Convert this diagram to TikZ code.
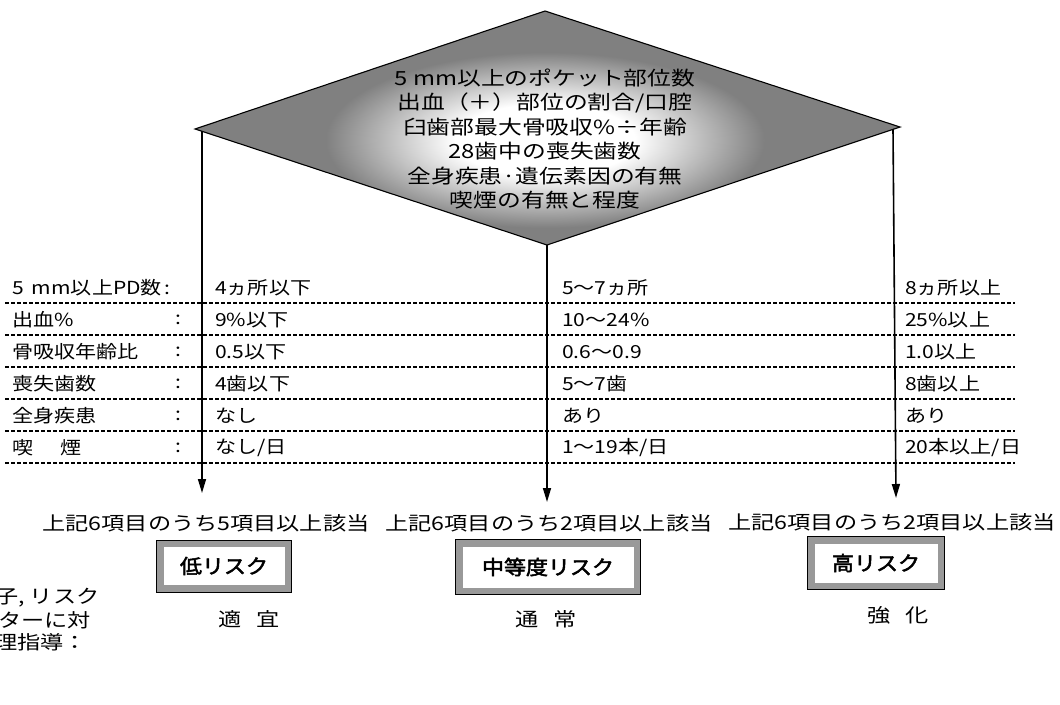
\documentclass[tikz,border=0pt]{standalone}
\usepackage{fontspec}
\usetikzlibrary{arrows.meta}
\newfontfamily\jpT[FakeStretch=1.17]{Noto Sans CJK JP}
\newfontfamily\jpD[FakeStretch=1.22]{Noto Sans CJK JP}
\newfontfamily\jpL[FakeStretch=1.22]{Noto Sans CJK JP}
\newfontfamily\jpB[FakeStretch=1.1,FakeBold=2.5]{Noto Sans CJK JP}
\pgfdeclareradialshading{glow}{\pgfpoint{0bp}{0bp}}{color(0bp)=(white); color(9bp)=(white); color(22bp)=(black!50); color(50bp)=(black!50)}
\begin{document}
\begin{tikzpicture}[x=1pt,y=-1pt,
  txt/.style={inner sep=0pt, font=\fontsize{18}{20}\jpT},
  lbl/.style={inner sep=0pt, font=\fontsize{19}{22}\jpL},
  sep/.style={dash pattern=on 3.5pt off 2.5pt, line width=1.1pt},
  arr/.style={line width=1.6pt, -{Triangle[length=14pt,width=8pt]}},
  riskbox/.style={draw=black, line width=0.9pt, fill=black!40, inner sep=0pt,
    font=\fontsize{20}{22}\jpB,
    path picture={\fill[white] ([shift={(7pt,7pt)}]path picture bounding box.south west) rectangle ([shift={(-7pt,-7pt)}]path picture bounding box.north east);}}
]
\clip (0,0) rectangle (1060,704);
\fill[white] (0,0) rectangle (1060,704);
% diamond
\coordinate (T) at (545,11);
\coordinate (L) at (195,129);
\coordinate (R) at (900,127);
\coordinate (B) at (547,245);
\fill[black!50] (T) -- (R) -- (B) -- (L) -- cycle;
\begin{scope}
  \clip (T) -- (R) -- (B) -- (L) -- cycle;
  \shade[shading=glow] (545,140) ellipse [x radius=250, y radius=100];
\end{scope}
\draw[line width=1.1pt] (T) -- (R) -- (B) -- (L) -- cycle;
\node[align=center, inner sep=0pt, font=\fontsize{19.5}{24.5}\jpD] (dtext) at (545,139)
  {5 mm以上のポケット部位数\\出血（＋）部位の割合/口腔\\臼歯部最大骨吸収\%÷年齢\\28歯中の喪失歯数\\全身疾患·遺伝素因の有無\\喫煙の有無と程度};
% table dashed lines
\foreach \k in {0,...,5} {
  \coordinate (dl\k) at (5,{303+32*\k});
  \coordinate (dr\k) at (1015,{303+32*\k});
  \draw[sep] (dl\k) -- (dr\k);
}
% row labels
\node[txt, anchor=west] (r1) at (12,288) {5\hspace{0.45em}mm以上PD数\,:};
\node[txt, anchor=west] (r2) at (12,320) {出血\%};
\node[txt, anchor=west] (r3) at (12,352) {骨吸収年齢比};
\node[txt, anchor=west] (r4) at (12,384) {喪失歯数};
\node[txt, anchor=west] (r5) at (12,416) {全身疾患};
\node[txt, anchor=west] (r6) at (12,448) {喫\hspace{1.5em}煙};
\foreach \k in {2,...,6} {
  \node[txt] (c\k) at (178,{288+32*(\k-1)}) {:};
}
% values
\node[txt, anchor=west] (a1) at (215,288) {4ヵ所以下};
\node[txt, anchor=west] (a2) at (215,320) {9\%以下};
\node[txt, anchor=west] (a3) at (215,352) {0.5以下};
\node[txt, anchor=west] (a4) at (215,384) {4歯以下};
\node[txt, anchor=west] (a5) at (215,416) {なし};
\node[txt, anchor=west] (a6) at (215,448) {なし/日};
\node[txt, anchor=west] (b1) at (562,288) {5〜7ヵ所};
\node[txt, anchor=west] (b2) at (562,320) {10〜24\%};
\node[txt, anchor=west] (b3) at (562,352) {0.6〜0.9};
\node[txt, anchor=west] (b4) at (562,384) {5〜7歯};
\node[txt, anchor=west] (b5) at (562,416) {あり};
\node[txt, anchor=west] (b6) at (562,448) {1〜19本/日};
\node[txt, anchor=west] (h1) at (905,288) {8ヵ所以上};
\node[txt, anchor=west] (h2) at (905,320) {25\%以上};
\node[txt, anchor=west] (h3) at (905,352) {1.0以上};
\node[txt, anchor=west] (h4) at (905,384) {8歯以上};
\node[txt, anchor=west] (h5) at (905,416) {あり};
\node[txt, anchor=west] (h6) at (905,448) {20本以上/日};
% arrows
\coordinate (s1) at (202,131);
\coordinate (s3) at (893,129);
\coordinate (e1) at (202,493);
\coordinate (e2) at (547,502);
\coordinate (e3) at (896,498);
\draw[arr] (s1) -- (e1);
\draw[arr] (B) -- (e2);
\draw[arr] (s3) -- (e3);
% criteria labels
\node[lbl] (q1) at (206,523) {上記6項目のうち5項目以上該当};
\node[lbl] (q2) at (549,523) {上記6項目のうち2項目以上該当};
\node[lbl] (q3) at (892,522) {上記6項目のうち2項目以上該当};
% risk boxes
\node[riskbox, minimum width=135pt, minimum height=52pt] (low) at (224,566) {低リスク};
\node[riskbox, minimum width=185pt, minimum height=55pt] (mid) at (548,567) {中等度リスク};
\node[riskbox, minimum width=137pt, minimum height=53pt] (high) at (876,563) {高リスク};
% guidance
\node[lbl] (g1) at (249,619) {適\hspace{0.75em}宜};
\node[lbl] (g2) at (546,619) {通\hspace{0.75em}常};
\node[lbl] (g3) at (898,615) {強\hspace{0.75em}化};
% text cut off at the left edge, as in the reference
\node[lbl, anchor=west] (t1) at (-5,598) {子, リスク};
\node[lbl, anchor=west] (t2) at (-2,620) {ターに対};
\node[lbl, anchor=west] (t3) at (-6,642) {理指導：};
\end{tikzpicture}
\end{document}
